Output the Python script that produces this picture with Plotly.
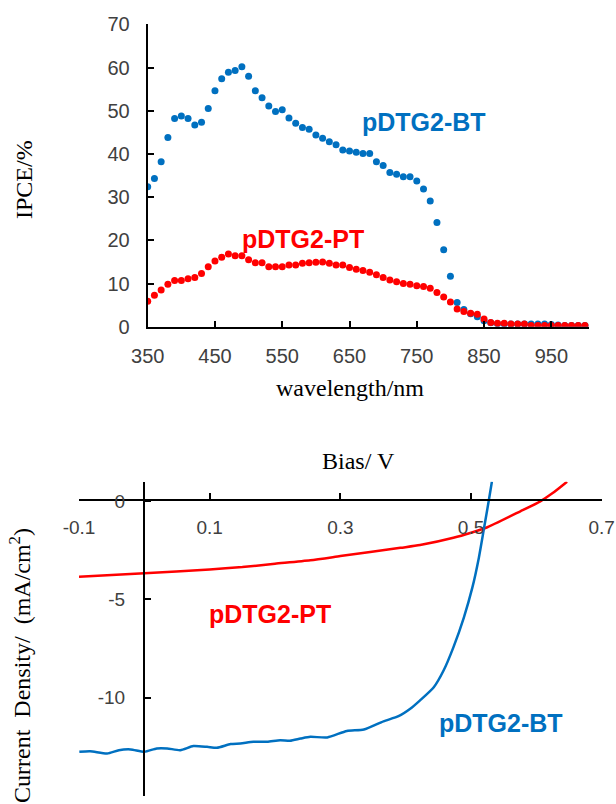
import plotly.graph_objects as go

# ---------- IPCE data ----------
wavelength = list(range(350, 1001, 10))
ipce_bt = [32.4, 34.3, 38.2, 43.8, 48.2, 48.8, 48.2, 46.7, 47.3, 50.5,
           54.6, 57.4, 58.9, 59.3, 60.2, 58.0, 54.6, 53.0, 51.1, 49.8,
           50.2, 48.3, 47.1, 46.1, 45.7, 44.4, 43.6, 42.8, 42.1, 40.9,
           40.7, 40.4, 40.1, 40.1, 38.2, 37.3, 35.7, 35.3, 34.7, 34.7,
           33.7, 31.9, 29.1, 24.1, 17.8, 11.7, 5.6, 4.0, 3.0, 2.3,
           1.4, 0.9, 0.7, 0.6, 0.6, 0.6, 0.6, 0.6, 0.6, 0.6,
           0.5, 0.4, 0.3, 0.3, 0.3, 0.3]
ipce_pt = [5.9, 7.3, 8.5, 9.8, 10.7, 10.7, 11.1, 11.4, 12.3, 13.9,
           15.2, 16.1, 16.8, 16.4, 16.4, 15.5, 14.8, 14.8, 13.9, 13.9,
           13.9, 14.3, 14.3, 14.7, 14.8, 14.9, 15.0, 14.7, 14.3, 14.3,
           13.7, 13.3, 13.0, 12.6, 12.0, 11.4, 10.8, 10.4, 10.0, 9.8,
           9.5, 9.3, 8.9, 7.9, 6.9, 5.7, 4.1, 3.5, 3.1, 2.9,
           1.8, 1.0, 0.8, 0.8, 0.6, 0.6, 0.6, 0.25, 0.25, 0.25,
           0.25, 0.25, 0.25, 0.25, 0.25, 0.25]
ipce_xticks = [350, 450, 550, 650, 750, 850, 950]
ipce_yticks = [0, 10, 20, 30, 40, 50, 60, 70]

# ---------- J-V data ----------
v_pt = [-0.1, 0.0, 0.1, 0.15, 0.2, 0.254, 0.3, 0.392, 0.422, 0.473, 0.5,
        0.525, 0.5755, 0.606, 0.625, 0.647]
j_pt = [-3.84, -3.67, -3.47, -3.35, -3.18, -3.0, -2.79, -2.37, -2.23, -1.86, -1.6,
        -1.32, -0.51, 0.0, 0.42, 1.0]

v_bt = [-0.0995, -0.083, -0.057, -0.039, -0.021, 0.0, 0.019, 0.035, 0.055, 0.075,
        0.096, 0.111, 0.132, 0.147, 0.167, 0.188, 0.208, 0.223, 0.239, 0.254,
        0.280, 0.310, 0.336, 0.366, 0.389, 0.407, 0.422, 0.443, 0.458, 0.473,
        0.489, 0.502, 0.512, 0.520, 0.527, 0.532]
j_bt = [-12.76, -12.73, -12.85, -12.68, -12.64, -12.76, -12.59, -12.59, -12.68, -12.47,
        -12.51, -12.56, -12.37, -12.34, -12.25, -12.25, -12.17, -12.2, -12.09, -12.0,
        -12.03, -11.7, -11.63, -11.21, -10.95, -10.57, -10.14, -9.47, -8.62, -7.44,
        -5.92, -4.4, -2.87, -1.35, 0.0, 1.01]

jv_xticks = [-0.1, 0.1, 0.3, 0.5, 0.7]
jv_xticktext = ["-0.1", "0.1", "0.3", "0.5", "0.7"]
jv_yticks = [-15, -10, -5, 0]
jv_yticktext = ["-15", "-10", "-5", "0"]

BLUE = "#0070C0"
RED = "#FF0000"
TICKC = "#404040"
W, H = 616, 804

fig = go.Figure()

fig.add_trace(go.Scatter(x=wavelength, y=ipce_bt, mode="markers",
                         marker=dict(color=BLUE, size=7), xaxis="x", yaxis="y",
                         showlegend=False))
fig.add_trace(go.Scatter(x=wavelength, y=ipce_pt, mode="markers",
                         marker=dict(color=RED, size=7), xaxis="x", yaxis="y",
                         showlegend=False))
fig.add_trace(go.Scatter(x=v_pt, y=j_pt, mode="lines",
                         line=dict(color=RED, width=2.5, shape="spline", smoothing=0.6),
                         xaxis="x2", yaxis="y2", showlegend=False))
fig.add_trace(go.Scatter(x=v_bt, y=j_bt, mode="lines",
                         line=dict(color=BLUE, width=2.5, shape="spline", smoothing=0.6),
                         xaxis="x2", yaxis="y2", showlegend=False))

axis_common = dict(showgrid=False, zeroline=False, showline=True, linecolor="black",
                   linewidth=2, ticks="inside", tickcolor="black", tickwidth=2, ticklen=6,
                   automargin=False)

# top chart pixel geometry
x0p, x1p = 147.7, 589.0
y0p, y70p = 326.7, 24.3
# bottom chart pixel geometry
bx0, bx1 = 79.0, 601.7
by_top, by_bot = 481.7, 795.7
b_xaxis_y = 500.0
b_yaxis_x = 144.0

fig.update_layout(
    width=W, height=H, margin=dict(l=0, r=0, t=0, b=0),
    paper_bgcolor="white", plot_bgcolor="white",
    xaxis=dict(**axis_common, domain=[x0p / W, x1p / W], anchor="y",
               range=[350, 350 + (x1p - x0p) / 0.6727],
               tickvals=ipce_xticks, ticklabelstandoff=10,
               tickfont=dict(family="Liberation Sans, Arial", size=20, color=TICKC)),
    yaxis=dict(**axis_common, domain=[(H - y0p) / H, (H - y70p) / H], anchor="x",
               range=[0, 70], tickvals=ipce_yticks, ticklabelstandoff=12,
               tickfont=dict(family="Liberation Sans, Arial", size=20, color=TICKC)),
    xaxis2=dict(**axis_common, domain=[bx0 / W, bx1 / W], anchor="free",
                position=(H - b_xaxis_y) / H, range=[-0.1, 0.7],
                tickvals=jv_xticks, ticktext=jv_xticktext, ticklabelstandoff=10,
                tickfont=dict(family="Liberation Sans, Arial", size=19, color=TICKC)),
    yaxis2=dict(**axis_common, domain=[(H - by_bot) / H, (H - by_top) / H], anchor="free",
                position=b_yaxis_x / W, range=[-15, 1],
                tickvals=jv_yticks, ticktext=jv_yticktext, ticklabelstandoff=14,
                tickfont=dict(family="Liberation Sans, Arial", size=19, color=TICKC)),
)

serif = "Liberation Serif, Times New Roman"
annots = [
    dict(text="wavelength/nm", x=350 / W, y=(H - 388) / H, font=dict(family=serif, size=24, color="black")),
    dict(text="IPCE/%", x=24 / W, y=(H - 180) / H, textangle=-90, font=dict(family=serif, size=24, color="black")),
    dict(text="Bias/ V", x=358 / W, y=(H - 461) / H, font=dict(family=serif, size=24, color="black")),
    dict(text="Current  Density/  (mA/cm<sup>2</sup>)", x=20 / W, y=(H - 666) / H, textangle=-90,
         font=dict(family=serif, size=24, color="black")),
    dict(text="<b>pDTG2-BT</b>", x=424 / W, y=(H - 122) / H, font=dict(family="Liberation Sans, Arial", size=25, color=BLUE)),
    dict(text="<b>pDTG2-PT</b>", x=303 / W, y=(H - 239) / H, font=dict(family="Liberation Sans, Arial", size=25, color=RED)),
    dict(text="<b>pDTG2-PT</b>", x=270 / W, y=(H - 614) / H, font=dict(family="Liberation Sans, Arial", size=25, color=RED)),
    dict(text="<b>pDTG2-BT</b>", x=501 / W, y=(H - 723) / H, font=dict(family="Liberation Sans, Arial", size=25, color=BLUE)),
]
for a in annots:
    a.update(xref="paper", yref="paper", showarrow=False, xanchor="center", yanchor="middle")
fig.update_layout(annotations=annots)

fig.write_html("out.html", config={"displayModeBar": False},
               post_script="document.body.style.margin='0px';")
